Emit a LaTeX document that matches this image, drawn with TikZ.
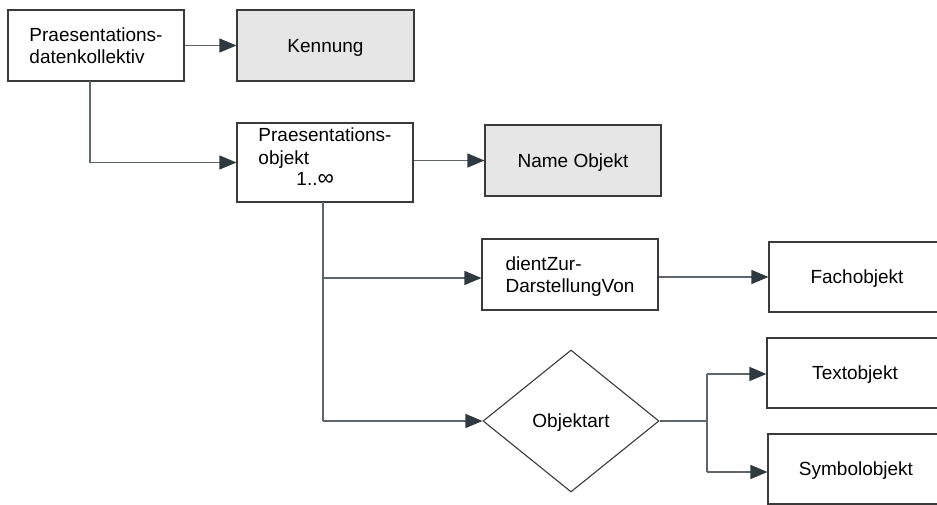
\documentclass[tikz,border=0pt]{standalone}
\usepackage{fontspec}
\setmainfont{Liberation Sans}
\usetikzlibrary{shapes.geometric,arrows.meta}
\definecolor{boxgray}{HTML}{E6E6E6}
\definecolor{linecol}{HTML}{5C666C}
\definecolor{tipcol}{HTML}{2E3A40}
\definecolor{bordercol}{HTML}{3A3A3A}
\tikzset{
  lbl/.style={font=\fontsize{19}{22.5}\selectfont, text depth=0pt},
  box/.style={lbl, draw=bordercol, line width=1.1pt, rectangle, minimum width=176pt, minimum height=71pt,
    inner sep=0pt, align=left},
  shaded/.style={box, fill=boxgray},
  conn/.style={draw=linecol, line width=1.2pt, -{Triangle[length=17pt,width=14pt,color=tipcol]}},
  plain/.style={draw=linecol, line width=1.2pt},
}
\begin{document}
\begin{tikzpicture}[x=1pt,y=-1pt]
\useasboundingbox (0,0) rectangle (937,505);
\clip (0,0) rectangle (937,505);
\fill[white] (0,0) rectangle (937,505);
% nodes
\node[box] (b1) at (96,45.5) {Praesentations-\\datenkollektiv};
\node[shaded, minimum width=177pt] (ken) at (325.5,45.5) {Kennung};
\node[box, minimum height=79pt, text depth=11pt] (po) at (325,162.5) {Praesentations-\\objekt\\[-1pt]\hspace*{38pt}1..{\fontsize{23}{22.5}\selectfont ∞}};
\node[shaded] (name) at (573,160.5) {Name Objekt};
\node[box] (dz) at (570,274.5) {dientZur-\\DarstellungVon};
\node[box, minimum height=70pt] (fach) at (857,277) {Fachobjekt};
\node[lbl, draw=bordercol, line width=1.1pt, diamond, minimum width=176pt, minimum height=142pt, inner sep=0pt] (oa) at (571,421) {Objektart};
\node[box, minimum height=70pt] (txt) at (855,373) {Textobjekt};
\node[box, minimum height=70pt] (sym) at (856,469) {Symbolobjekt};
% helper coordinates
\coordinate (c1) at (90,81);
\coordinate (c2) at (323,202);
\coordinate (j1) at (323,278);
\coordinate (j2) at (323,421);
\coordinate (d1) at (707,421);
\coordinate (t1) at (707,374);
\coordinate (s1) at (707,472);
% connectors
\draw[conn] (b1.east) -- (ken.west);
\draw[conn] (c1) |- (po.west);
\draw[conn] (po.east |- name.west) -- (name.west);
\draw[plain] (c2) -- (j2);
\draw[conn] (j1) -- (dz.west |- j1);
\draw[conn] (j2) -- (oa.west);
\draw[conn] (fach.west -| dz.east) -- (fach.west);
\draw[plain] (oa.east) -- (d1);
\draw[plain] (t1) -- (s1);
\draw[conn] (t1) -- (txt.west |- t1);
\draw[conn] (s1) -- (sym.west |- s1);
\end{tikzpicture}
\end{document}
